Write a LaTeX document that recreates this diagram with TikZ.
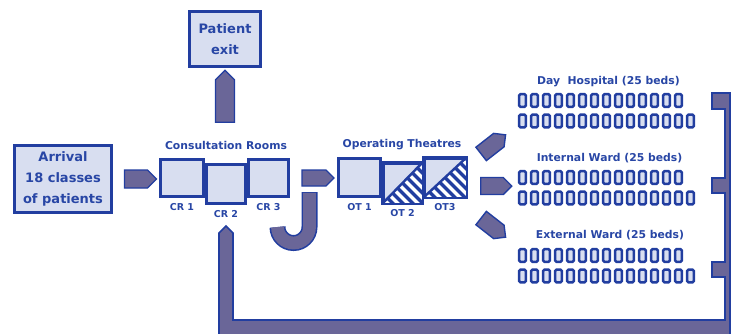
\documentclass[tikz,border=0pt]{standalone}
\usepackage{fontspec}
\setmainfont{DejaVu Sans}
\usetikzlibrary{shapes.arrows,positioning,calc}

\definecolor{edge}{RGB}{34,62,160}
\definecolor{roomfill}{RGB}{216,222,240}
\definecolor{arrowfill}{RGB}{106,102,152}
\definecolor{textblue}{RGB}{40,70,165}

\tikzset{
    bigbox/.style={draw=edge, fill=roomfill, line width=3pt, align=center,
        text=textblue, inner sep=0pt,
        font=\bfseries\fontsize{13}{21}\selectfont},
    roombox/.style={draw=edge, fill=roomfill, line width=2.8pt, inner sep=0pt},
    roomlabel/.style={text=textblue, inner sep=1pt,
        font=\bfseries\fontsize{9.5}{11}\selectfont},
    grouptitle/.style={text=textblue, inner sep=0pt,
        font=\bfseries\fontsize{10.8}{12}\selectfont},
    blockarrow/.style={single arrow, single arrow head extend=0pt,
        draw=edge, fill=arrowfill, line width=1.4pt, inner sep=0pt},
    bed/.style={draw=edge, fill=roomfill, line width=2.5pt, rounded corners=1.5pt,
        minimum width=6.8pt, minimum height=12.8pt, inner sep=0pt},
    hatch/.style={edge, line width=3.2pt},
}

\begin{document}
\begin{tikzpicture}[x=1pt,y=-1pt]
    \useasboundingbox
        (0,0) rectangle (734,333);

    % return loop from the wards
    \begin{scope}
        \clip
            (0,0) rectangle (734,333);
        \filldraw
            [draw=edge, fill=arrowfill, line width=1.6pt]
            (226,226) -- (233,233) -- (233,320) -- (725,320)
            -- (725,277) -- (712,277) -- (712,262) -- (725,262)
            -- (725,193) -- (712,193) -- (712,178) -- (725,178)
            -- (725,109) -- (712,109) -- (712,93) -- (730,93)
            -- (730,345) -- (219,345) -- (219,233) -- cycle;
    \end{scope}

    \node
        [bigbox, minimum width=97pt, minimum height=67pt] (arrival) at (63,179)
        {Arrival\\18 classes\\of patients};
    \node
        [bigbox, minimum width=71pt, minimum height=55pt] (exit) at (225,39)
        {Patient\\exit};

    % consultation rooms
    \node
        [grouptitle] (crtitle) at (226,145) {Consultation Rooms};
    \node
        [roombox, minimum width=43pt, minimum height=37pt] (cr1) at (182,178) {};
    \node
        [roombox, minimum width=40pt, minimum height=37pt] (cr3) at (268.5,178) {};
    \node
        [roombox, minimum width=39pt, minimum height=39pt] (cr2) at (226,184) {};
    \node
        [roomlabel, below=4pt of cr1] (cr1lbl) {CR 1};
    \node
        [roomlabel, below=4pt of cr2] (cr2lbl) {CR 2};
    \node
        [roomlabel, below=4pt of cr3] (cr3lbl) {CR 3};

    % operating theatres
    \node
        [grouptitle] (ottitle) at (402,145) {Operating Theatres};
    \node
        [roombox, minimum width=42pt, minimum height=38pt] (ot1) at (359.5,177.5) {};
    \node
        [roombox, minimum width=41pt, minimum height=38pt] (ot3) at (445,177.5) {};
    \node
        [roombox, minimum width=38pt, minimum height=39pt] (ot2) at (402.5,183) {};
    \foreach \ot in {ot2,ot3} {
        \begin{scope}
            \clip
                (\ot.south west) -- (\ot.south east) -- (\ot.north east) -- cycle;
            \fill
                [white] (\ot.south west) rectangle (\ot.north east);
            \foreach \k in {-6,...,6}
                \draw
                    [hatch] ($(\ot.center)+(\k*5,-\k*5)$) ++(-30,-30) -- ++(60,60);
        \end{scope}
        \draw
            [edge, line width=2.4pt] (\ot.south west) -- (\ot.north east);
        \draw
            [edge, line width=2.8pt] (\ot.south west) rectangle (\ot.north east);
    }
    \node
        [roomlabel, below=4pt of ot1] (ot1lbl) {OT 1};
    \node
        [roomlabel, below=4pt of ot2] (ot2lbl) {OT 2};
    \node
        [roomlabel, below=4pt of ot3] (ot3lbl) {OT3};

    % block arrows
    \node
        [blockarrow, minimum height=32pt, minimum width=18pt] (toCR) at (136,179) {};
    \node
        [blockarrow, minimum height=52pt, minimum width=19pt, rotate=90] (toExit) at (225,101) {};
    \node
        [blockarrow, minimum height=32pt, minimum width=16pt] (toOT) at (314,178) {};
    \node
        [blockarrow, minimum height=31pt, minimum width=17pt, rotate=38] (toDay) at (490,147) {};
    \node
        [blockarrow, minimum height=31pt, minimum width=17pt] (toInt) at (492,186) {};
    \node
        [blockarrow, minimum height=31pt, minimum width=17pt, rotate=-38] (toExt) at (490,225) {};

    % re-entry bend below CR 3
    \draw
        [edge, line width=16pt] (309.5,192) -- (309.5,227) arc[start angle=0, end angle=180, radius=16];
    \draw
        [arrowfill, line width=12.8pt] (309.5,192.8) -- (309.5,227) arc[start angle=0, end angle=180, radius=16];

    % wards
    \node
        [grouptitle] (daylbl) at (608.5,82) {Day\ \ Hospital (25 beds)};
    \node
        [grouptitle] (intlbl) at (609.5,158) {Internal Ward (25 beds)};
    \node
        [grouptitle] (extlbl) at (610,235) {External Ward (25 beds)};
    \foreach \row in {93,170,248} {
        \foreach \i in {0,...,13}
            \node
                [bed] at (522.5+12*\i,\row+7.5) {};
        \foreach \i in {0,...,14}
            \node
                [bed] at (522.5+12*\i,\row+28) {};
    }
\end{tikzpicture}
\end{document}
